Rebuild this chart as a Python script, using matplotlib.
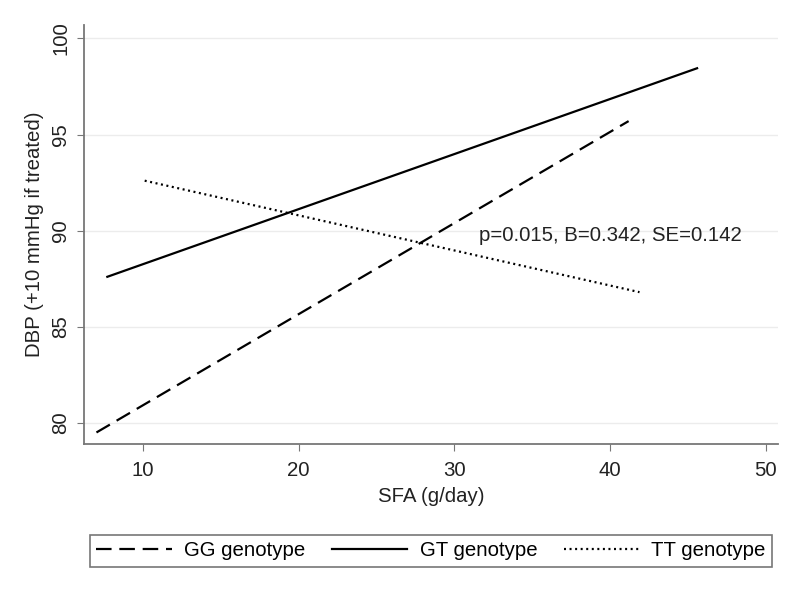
import matplotlib
matplotlib.use("Agg")
import matplotlib.pyplot as plt
import numpy as np

plt.rcParams['font.family'] = ['Liberation Sans', 'DejaVu Sans']

# fitted lines: SFA intake (g/day) vs DBP, end points per genotype
gg_x = [7.0, 41.2]
gg_y = [79.5, 95.7]
gt_x = [7.7, 45.6]
gt_y = [87.6, 98.45]
tt_x = [10.1, 41.9]
tt_y = [92.6, 86.8]

xticks = [10, 20, 30, 40, 50]
yticks = [80, 85, 90, 95, 100]
note = "p=0.015, B=0.342, SE=0.142"

fs = 14.7

fig = plt.figure(figsize=(8.01, 5.95), dpi=100)
ax = fig.add_axes([84/801, 1-444/595, 694/801, 419/595])

ax.plot(gg_x, gg_y, color='black', lw=1.6, dashes=(7, 3.5), label='GG genotype')
ax.plot(gt_x, gt_y, color='black', lw=1.6, label='GT genotype')
ax.plot(tt_x, tt_y, color='black', lw=1.6, dashes=(0.9, 1.6), label='TT genotype')

ax.text(31.6, 89.75, note, fontsize=fs, va='center', ha='left', color='#222222')

ax.set_xlim(6.2, 50.8)
ax.set_ylim(78.9, 100.7)
ax.set_xticks(xticks)
ax.set_yticks(yticks)
ax.set_yticklabels([str(v) for v in yticks], rotation=90, va='center')
ax.tick_params(axis='both', labelsize=fs, length=5, color='#777777', labelcolor='#222222')
ax.tick_params(axis='x', pad=7)
ax.tick_params(axis='y', pad=5)
ax.grid(axis='y', color='#ececec', lw=1)
ax.set_axisbelow(True)
for s in ['top', 'right']:
    ax.spines[s].set_visible(False)
for s in ['left', 'bottom']:
    ax.spines[s].set_color('#777777')
    ax.spines[s].set_linewidth(1.3)

ax.set_xlabel('SFA (g/day)', fontsize=fs, color='#222222', labelpad=5)
ax.set_ylabel('DBP (+10 mmHg if treated)', fontsize=fs, color='#222222', labelpad=5)

leg = fig.legend(loc='center', bbox_to_anchor=(90/801, 1-570/595, 682/801, 38/595),
                 mode='expand', ncol=3, fontsize=fs, handlelength=3.7,
                 frameon=True, fancybox=False, borderaxespad=0, handletextpad=0.6,
                 borderpad=0.3)
leg.get_frame().set_edgecolor('#555555')
leg.get_frame().set_linewidth(1.2)

fig.savefig('out.png', dpi=100)
